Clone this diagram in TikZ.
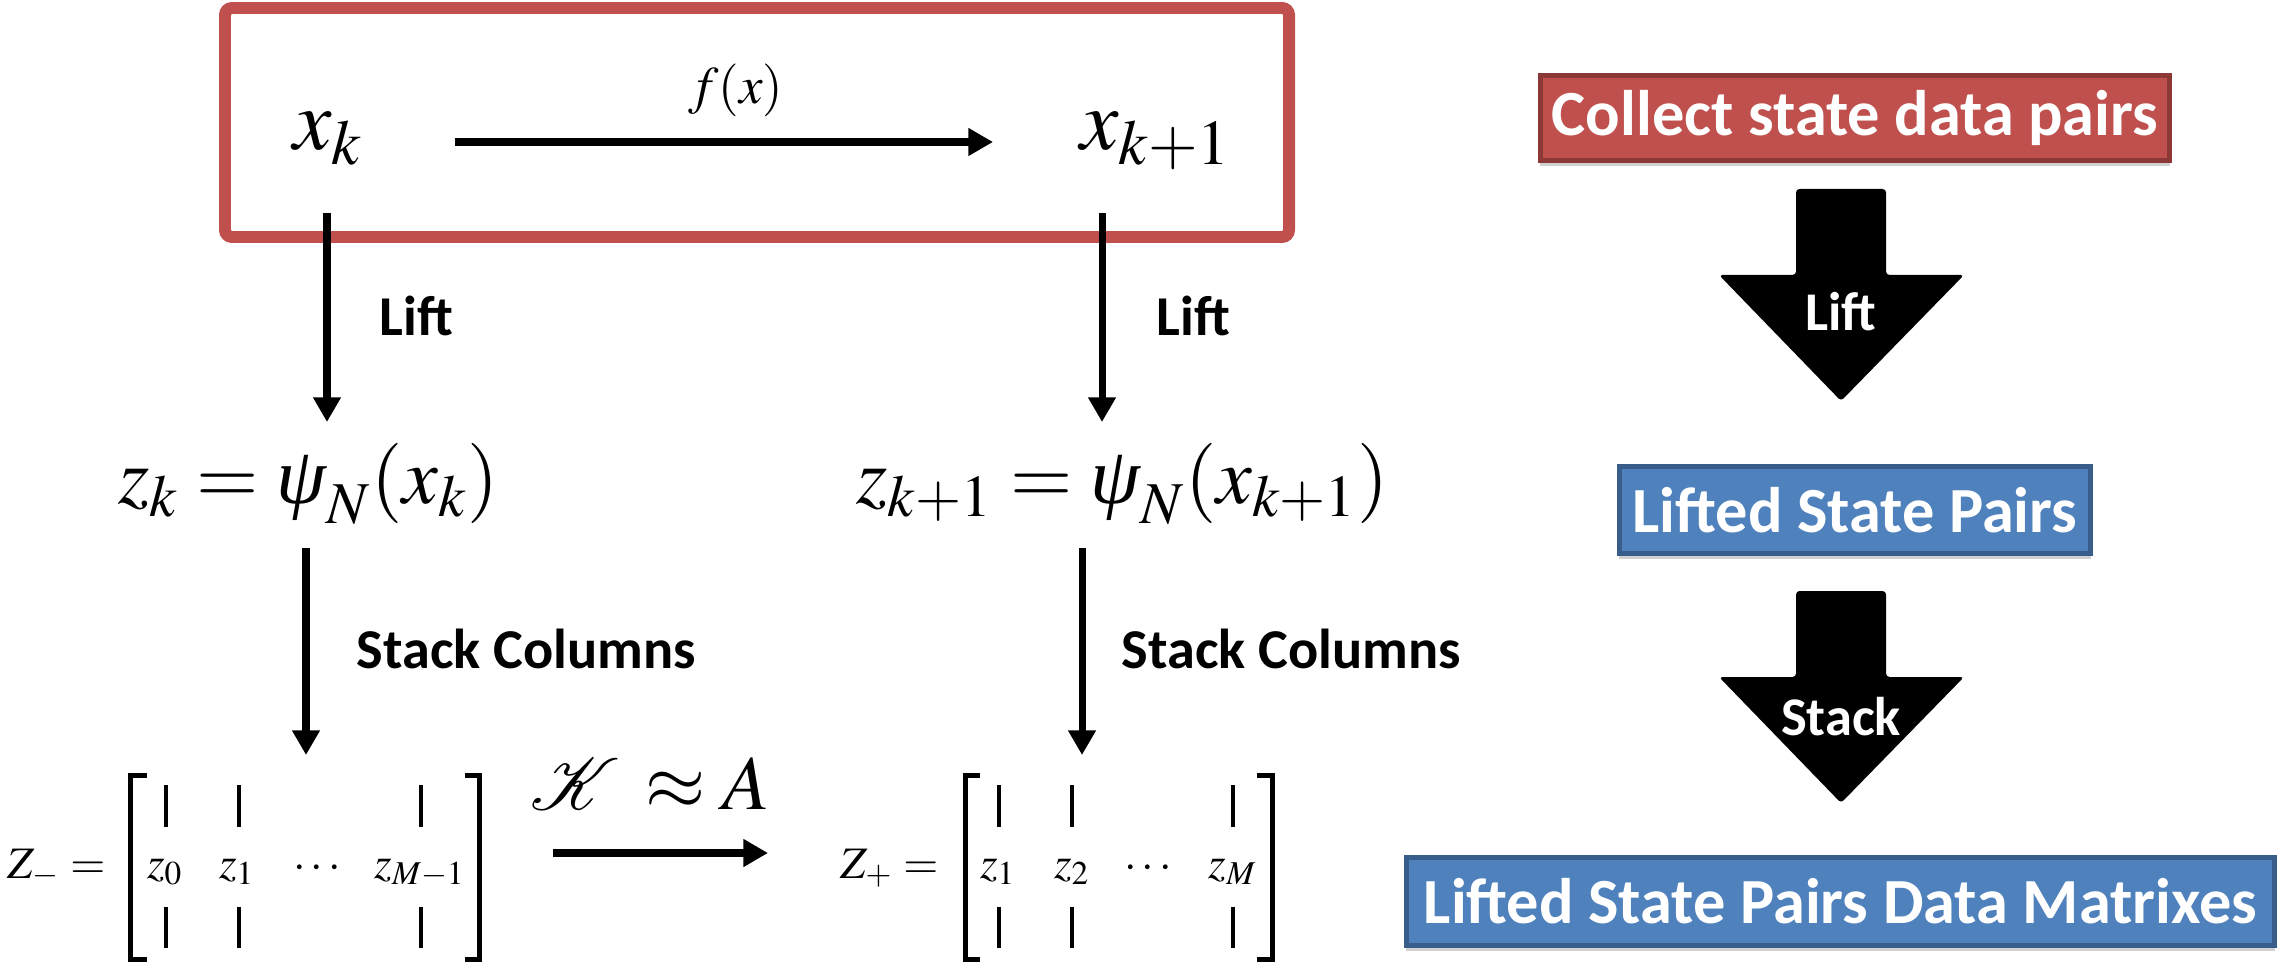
\documentclass[tikz,border=0pt]{standalone}
\usepackage[no-math]{fontspec}
\usepackage{mathptmx}
\usepackage{mathrsfs}
\usetikzlibrary{arrows.meta,calc,shadows}
\newfontfamily\lblfont{Carlito}
\newfontfamily\libserif{Liberation Serif}
\newcommand{\itpsi}{\mbox{\libserif\itshape ψ}}
\definecolor{boxred}{HTML}{C0504D}
\definecolor{boxredline}{HTML}{8C3836}
\definecolor{boxblue}{HTML}{4F81BD}
\definecolor{boxblueline}{HTML}{385D8A}
\tikzset{
  arr/.style={line width=2pt,-{Triangle[length=7pt,width=7.5pt]}},
  mathlbl/.style={inner sep=0pt},
  matfont/.style={inner sep=0pt,font=\fontsize{12.8}{15.4}\selectfont},
  bracket/.style={line width=1.4pt},
  colbar/.style={line width=1pt},
  steplbl/.style={inner sep=0pt,font=\lblfont\bfseries\fontsize{16}{19}\selectfont},
  flowbox/.style={draw,line width=1.4pt,inner sep=0pt,
    font=\lblfont\bfseries\fontsize{18.3}{21}\selectfont,text=white,
    drop shadow={shadow xshift=0pt,shadow yshift=-1.6pt,opacity=0.3,fill=black!60}},
  redbox/.style={flowbox,fill=boxred,draw=boxredline},
  bluebox/.style={flowbox,fill=boxblue,draw=boxblueline},
  blockarrow/.style={fill=black,rounded corners=1pt},
  arrowtxt/.style={text=white,inner sep=0pt,font=\lblfont\bfseries\fontsize{15.5}{18}\selectfont},
}
\begin{document}
\begin{tikzpicture}[x=0.01cm,y=-0.01cm]
\useasboundingbox (0,0) rectangle (2280,964);

% ---------- left part ----------
\draw[boxred,line width=3.4pt,rounded corners=2pt] (225,8) rectangle (1289,237);

\node[mathlbl,anchor=base west,font=\fontsize{24.5}{29}\selectfont] (xk) at (293,150) {$x_k$};
\node[mathlbl,anchor=base west,font=\fontsize{24.5}{29}\selectfont] (xk1) at (1080,150) {$x_{k+1}$};
\node[mathlbl,anchor=base,font=\fontsize{15}{18}\selectfont] (fx) at (736,104) {$f(x)$};

\node[mathlbl,anchor=base west,font=\fontsize{22.8}{27}\selectfont] (zk) at (118,503) {$z_k = \itpsi_N(x_k)$};
\node[mathlbl,anchor=base west,font=\fontsize{22.8}{27}\selectfont] (zk1) at (856,503) {$z_{k+1} = \itpsi_N(x_{k+1})$};

% left data matrix
\node[matfont,anchor=base west] (zmZ) at (7,878) {$Z_{-} =$};
\node[matfont,anchor=base] (zm0) at (165,878) {$z_0$};
\node[matfont,anchor=base] (zm1) at (237,878) {$z_1$};
\node[matfont,anchor=base] (zmd) at (317,878) {$\cdotp\cdotp\cdotp$};
\node[matfont,anchor=base] (zmM) at (420,878) {$z_{M-1}$};
\coordinate (zmL) at (130.5,867);
\coordinate (zmR) at (479.5,867);
\draw[bracket] (147,775.5) -| (130.5,959.5) -- (147,959.5);
\draw[bracket] (465,775.5) -| (479.5,959.5) -- (465,959.5);
\foreach \cx in {166,239,421}{
  \draw[colbar] (\cx,785) -- (\cx,827);
  \draw[colbar] (\cx,907) -- (\cx,948);
}

% right data matrix
\node[matfont,anchor=base west] (zpZ) at (840,878) {$Z_{+} =$};
\node[matfont,anchor=base] (zp1) at (998,878) {$z_1$};
\node[matfont,anchor=base] (zp2) at (1072,878) {$z_2$};
\node[matfont,anchor=base] (zpd) at (1148,878) {$\cdotp\cdotp\cdotp$};
\node[matfont,anchor=base] (zpM) at (1233,878) {$z_{M}$};
\draw[bracket] (980,775.5) -| (965.5,959.5) -- (980,959.5);
\draw[bracket] (1257,775.5) -| (1272.5,959.5) -- (1257,959.5);
\foreach \cx in {999,1072,1233}{
  \draw[colbar] (\cx,785) -- (\cx,827);
  \draw[colbar] (\cx,907) -- (\cx,948);
}

\node[mathlbl,anchor=base,font=\fontsize{22}{26}\selectfont] (KA) at (650,809) {$\mathscr{K}\,\approx A$};

\coordinate (cA) at (327,0);
\coordinate (cB) at (1102,0);
\coordinate (cC) at (306,0);
\coordinate (cD) at (1082,0);

\draw[arr] ($(xk.base east)+(91,-8)$) -- ($(xk1.base west)+(-87,-8)$);
\draw[arr] ($(xk.base -| cA)+(0,63)$) -- ($(zk.base -| cA)+(0,-81)$);
\draw[arr] ($(xk1.base -| cB)+(0,63)$) -- ($(zk1.base -| cB)+(0,-81)$);
\draw[arr] ($(zk.base -| cC)+(0,45)$) -- ($(zm0.base -| cC)+(0,-123)$);
\draw[arr] ($(zk1.base -| cD)+(0,45)$) -- ($(zp1.base -| cD)+(0,-123)$);
\draw[arr] ($(zmR)+(73.5,-14)$) -- ($(zpZ.base west)+(-72,-25)$);

\node[steplbl,anchor=base west] (liftL) at (379,336) {Lift};
\node[steplbl,anchor=base west] (liftR) at (1156,336) {Lift};
\node[steplbl,anchor=base west] (stackL) at (356,668) {Stack Columns};
\node[steplbl,anchor=base west] (stackR) at (1121,668) {Stack Columns};

% ---------- right part ----------
\node[redbox,minimum width=6.29cm,minimum height=0.85cm] (collect) at (1855,118) {Collect state data pairs};
\node[bluebox,minimum width=4.71cm,minimum height=0.87cm] (lifted) at (1855,510) {Lifted State Pairs};
\node[bluebox,minimum width=8.68cm,minimum height=0.88cm] (matrixes) at (1840.5,901.5) {Lifted State Pairs Data Matrixes};

\fill[blockarrow] (1796,189) -- (1886,189) -- (1886,275) -- (1964,275) -- (1841,401) -- (1719,275) -- (1796,275) -- cycle;
\node[arrowtxt] (liftA) at (1841,312) {Lift};
\fill[blockarrow] (1796,591) -- (1886,591) -- (1886,677) -- (1964,677) -- (1841,803) -- (1719,677) -- (1796,677) -- cycle;
\node[arrowtxt] (stackA) at (1841,717) {Stack};
\end{tikzpicture}
\end{document}
